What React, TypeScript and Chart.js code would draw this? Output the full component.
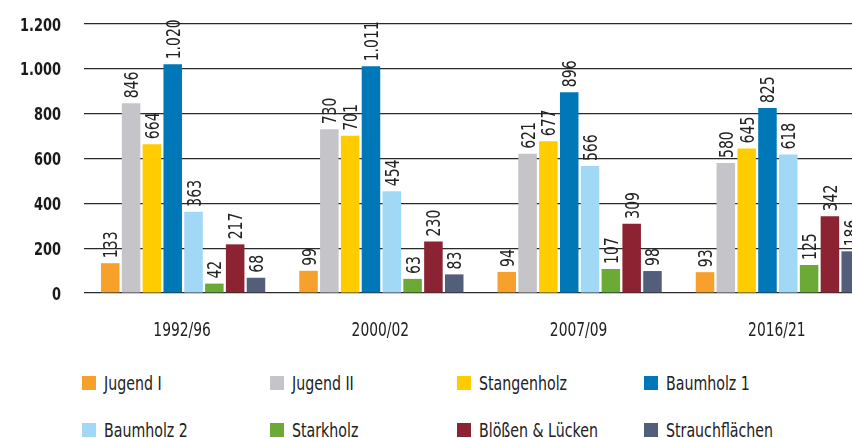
import React, { useEffect, useRef } from "react";
import { Chart, registerables } from "chart.js";

Chart.register(...registerables);

const categories = ["1992/96", "2000/02", "2007/09", "2016/21"];
const seriesNames = [
  "Jugend I",
  "Jugend II",
  "Stangenholz",
  "Baumholz 1",
  "Baumholz 2",
  "Starkholz",
  "Blößen & Lücken",
  "Strauchflächen",
];
const jugendI = [133, 99, 94, 93];
const jugendII = [846, 730, 621, 580];
const stangenholz = [664, 701, 677, 645];
const baumholz1 = [1020, 1011, 896, 825];
const baumholz2 = [363, 454, 566, 618];
const starkholz = [42, 63, 107, 125];
const bloessen = [217, 230, 309, 342];
const strauch = [68, 83, 98, 186];
const seriesValues = [jugendI, jugendII, stangenholz, baumholz1, baumholz2, starkholz, bloessen, strauch];
const colors = ["#F7A12C", "#C4C4C9", "#FFCC00", "#0077B6", "#A1D8F5", "#6BAA36", "#8C2332", "#525E7A"];
const yTicks = [0, 200, 400, 600, 800, 1000, 1200];

const FONT = '"Liberation Sans Narrow", "DejaVu Sans Condensed", "Arial Narrow", sans-serif';

const fmt = (v: number) => {
  const s = String(Math.round(v));
  return s.replace(/\B(?=(\d{3})+(?!\d))/g, ".");
};

const textPlugin = {
  id: "condensedText",
  afterDatasetsDraw(chart: any) {
    const ctx = chart.ctx;
    const xs = chart.scales.x;
    const ys = chart.scales.y;
    ctx.save();
    // y tick labels
    ctx.font = `bold 18px ${FONT}`;
    ctx.fillStyle = "#1a1a1a";
    ctx.textAlign = "right";
    ctx.textBaseline = "alphabetic";
    yTicks.forEach((v) => {
      const y = ys.getPixelForValue(v);
      ctx.save();
      ctx.translate(61, y + 6.5);
      ctx.scale(0.8, 1);
      ctx.fillText(fmt(v), 0, 0);
      ctx.restore();
    });
    // x tick labels
    ctx.font = `19px ${FONT}`;
    ctx.fillStyle = "#222222";
    ctx.textAlign = "center";
    categories.forEach((c, i) => {
      const x = xs.getPixelForValue(i);
      ctx.save();
      ctx.translate(x - 1, 336);
      ctx.scale(0.81, 1);
      ctx.fillText(c, 0, 0);
      ctx.restore();
    });
    // value labels
    ctx.font = `19px ${FONT}`;
    ctx.fillStyle = "#222222";
    ctx.textAlign = "left";
    chart.data.datasets.forEach((ds: any, i: number) => {
      const meta = chart.getDatasetMeta(i);
      meta.data.forEach((bar: any, j: number) => {
        const v = ds.data[j];
        ctx.save();
        ctx.translate(bar.x, bar.y - 5);
        ctx.rotate(-Math.PI / 2);
        ctx.scale(0.82, 1);
        ctx.fillText(fmt(v), 0, 7);
        ctx.restore();
      });
    });
    ctx.restore();
  },
};

export default function App() {
  const ref = useRef<HTMLCanvasElement | null>(null);
  useEffect(() => {
    if (!ref.current) return;
    const chart = new Chart(ref.current, {
      type: "bar",
      data: {
        labels: categories,
        datasets: seriesNames.map((name, i) => ({
          label: name,
          data: seriesValues[i],
          backgroundColor: colors[i],
          borderWidth: 0,
          categoryPercentage: 0.84,
          barPercentage: 0.89,
        })),
      },
      options: {
        responsive: false,
        animation: false,
        layout: { padding: { top: 24, left: 0, right: 0, bottom: 0 } },
        plugins: { legend: { display: false }, tooltip: { enabled: false } },
        scales: {
          x: {
            grid: { display: false, drawTicks: false },
            border: { display: false },
            ticks: { display: false },
            afterFit: (s: any) => {
              s.height = 52;
            },
          },
          y: {
            min: 0,
            max: 1200,
            afterBuildTicks: (s: any) => {
              s.ticks = yTicks.map((v) => ({ value: v }));
            },
            grid: { color: "#2a2a2a", lineWidth: 1.2, drawTicks: false },
            border: { display: false },
            ticks: { display: false },
            afterFit: (s: any) => {
              s.width = 84;
            },
          },
        },
      },
      plugins: [textPlugin],
    });
    return () => chart.destroy();
  }, []);

  const cols = [82, 270, 457, 644];
  const rows = [376, 423];

  return (
    <div
      style={{
        position: "fixed",
        left: 0,
        top: 0,
        width: 852,
        height: 438,
        overflow: "hidden",
        background: "#ffffff",
      }}
    >
      <canvas ref={ref} width={877} height={345} style={{ position: "absolute", left: 0, top: 0 }} />
      {seriesNames.map((name, i) => (
        <div
          key={name}
          style={{
            position: "absolute",
            left: cols[i % 4],
            top: rows[Math.floor(i / 4)] - 4,
            height: 22,
            display: "flex",
            alignItems: "center",
            whiteSpace: "nowrap",
          }}
        >
          <span style={{ display: "inline-block", width: 14, height: 14, background: colors[i] }} />
          <span
            style={{
              display: "inline-block",
              marginLeft: 8,
              fontFamily: FONT,
              fontSize: 19,
              lineHeight: "22px",
              color: "#222222",
              transform: "scaleX(0.83)",
              transformOrigin: "left center",
            }}
          >
            {name}
          </span>
        </div>
      ))}
    </div>
  );
}
